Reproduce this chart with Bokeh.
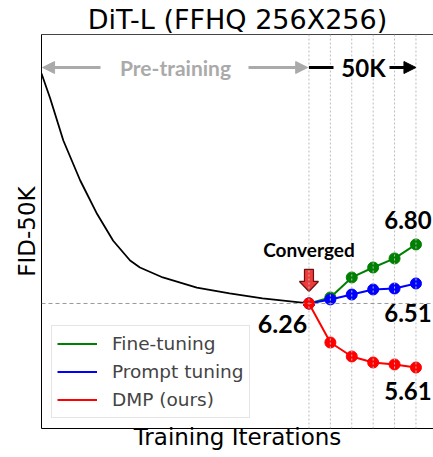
from bokeh.plotting import figure
from bokeh.models import (Range1d, Span, Label, Arrow, NormalHead, Legend,
                          LegendItem, LinearAxis, FixedTicker)
from bokeh.embed import file_html
from bokeh.resources import INLINE

# ---------------- data (x: K iterations, y: FID-50K) ----------------
pre_x = [0.0, 4.0, 10.2, 18.1, 26.0, 33.5, 41.4, 46.0, 56.7, 72.6, 87.9, 103.3, 125.0]
pre_y = [8.364, 8.14, 7.751, 7.385, 7.078, 6.834, 6.653, 6.589, 6.498, 6.406, 6.352, 6.306, 6.26]

steps = [125, 135, 145, 155, 165, 175]
fine_tuning = [6.26, 6.315, 6.498, 6.589, 6.672, 6.80]
prompt_tuning = [6.26, 6.297, 6.342, 6.388, 6.397, 6.443]
dmp = [6.26, 5.903, 5.775, 5.720, 5.702, 5.674]

converged_label = "6.26"
final_labels = ["6.80", "6.51", "5.61"]
series_names = ["Fine-tuning", "Prompt tuning", "DMP (ours)"]
series_colors = ["#008000", "#0000ff", "#ff0000"]

X0, X1 = 0.0, 183.2
Y0, Y1 = 5.116, 8.721
PXX = (X1 - X0) / 392.0   # data per pixel (x)
PXY = (Y1 - Y0) / 394.0   # data per pixel (y)

p = figure(width=433, height=457, output_backend="svg", toolbar_location=None,
           x_range=Range1d(X0, X1), y_range=Range1d(Y0, Y1),
           min_border_left=41, min_border_right=0, min_border_top=34,
           min_border_bottom=29)
p.grid.visible = False
p.outline_line_color = None
p.background_fill_color = "white"
p.border_fill_color = "white"

bottom_axis = p.below[0]
left_axis = p.left[0]
top_axis = LinearAxis()
p.add_layout(top_axis, "above")
for ax in [bottom_axis, left_axis, top_axis]:
    ax.ticker = FixedTicker(ticks=[])
    ax.major_tick_line_color = None
    ax.minor_tick_line_color = None
    ax.major_tick_out = 0
    ax.major_tick_in = 0
    ax.minor_tick_out = 0
    ax.major_label_text_font_size = "0px"
    ax.major_label_standoff = 0
    ax.axis_line_color = "black"
    ax.axis_line_width = 1
top_axis.axis_line_color = "#444444"

bottom_axis.axis_label = "Training Iterations"
left_axis.axis_label = "FID-50K"
for ax in [bottom_axis, left_axis]:
    ax.axis_label_text_font = "DejaVu Sans"
    ax.axis_label_text_font_size = "23px"
    ax.axis_label_text_font_style = "normal"
    ax.axis_label_text_color = "black"
left_axis.axis_label_standoff = 2
bottom_axis.axis_label_standoff = -5

p.title.text = "DiT-L (FFHQ 256X256)"
p.title.text_font = "DejaVu Sans"
p.title.text_font_size = "27px"
p.title.text_font_style = "normal"
p.title.align = "center"
p.title.text_color = "black"
p.title.standoff = 0

# vertical dotted guides and dashed converged level
for s in steps:
    p.add_layout(Span(location=s, dimension="height", line_color="#bbbbbb",
                      line_width=1, line_dash="2 2"))
p.add_layout(Span(location=fine_tuning[0], dimension="width", line_color="#999999",
                  line_width=1, line_dash="4 3"))

# pre-training curve
p.line(pre_x, pre_y, line_color="black", line_width=1.8)

renderers = []
for ys, c in zip([fine_tuning, prompt_tuning, dmp], series_colors):
    r = p.line(steps, ys, line_color=c, line_width=2)
    p.scatter(steps, ys, size=11, fill_color=c, line_color=c)
    renderers.append(r)

legend = Legend(items=[LegendItem(label=n, renderers=[r]) for n, r in zip(series_names, renderers)],
                location=(10, 10), label_text_font="DejaVu Sans",
                label_text_font_size="18.5px", glyph_width=40, glyph_height=25,
                label_height=25, label_standoff=15, spacing=3, padding=5,
                border_line_color="#cccccc", border_line_width=1,
                background_fill_alpha=0.85)
p.add_layout(legend)

# red block arrow above converged point
cx, cy = steps[0], fine_tuning[0]
ax_pts = [(-4.5, 34), (4.5, 34), (4.5, 22), (9.5, 22), (0, 12), (-9.5, 22), (-4.5, 22)]
p.patch([cx + dx * PXX for dx, dy in ax_pts], [cy + dy * PXY for dx, dy in ax_pts],
        fill_color="#ee3b3b", line_color="#6a1010", line_width=1.2)

bold = dict(text_font="Lato", text_font_style="bold", text_align="center",
            text_baseline="middle")
row_y = Y1 - 33 * PXY
p.add_layout(Label(x=(175 - 41) * PXX, y=row_y, text="Pre-training",
                   text_color="#aaaaaa", text_font_size="21px", **bold))
gray = "#aaaaaa"
p.add_layout(Arrow(x_start=(100 - 41) * PXX, y_start=row_y, x_end=0.5, y_end=row_y,
                   line_color=gray, line_width=3,
                   end=NormalHead(size=12, fill_color=gray, line_color=gray)))
p.add_layout(Arrow(x_start=(248 - 41) * PXX, y_start=row_y, x_end=cx - 0.6, y_end=row_y,
                   line_color=gray, line_width=3,
                   end=NormalHead(size=12, fill_color=gray, line_color=gray)))
p.add_layout(Arrow(x_start=cx, y_start=row_y, x_end=(333 - 41) * PXX, y_end=row_y,
                   line_color="black", line_width=3, end=None))
p.add_layout(Arrow(x_start=(389 - 41) * PXX, y_start=row_y, x_end=steps[-1], y_end=row_y,
                   line_color="black", line_width=3,
                   end=NormalHead(size=12, fill_color="black", line_color="black")))
p.add_layout(Label(x=(363 - 41) * PXX, y=row_y, text="50K", text_color="black",
                   text_font_size="24px", **bold))

p.add_layout(Label(x=cx, y=cy + 54 * PXY, text="Converged", text_color="black",
                   text_font_size="19px", **bold))
p.add_layout(Label(x=cx - 26.5 * PXX, y=cy - 21 * PXY, text=converged_label,
                   text_color="black", text_font_size="25px", **bold))
lab_x = steps[-1] - 8 * PXX
for t, dy in zip(final_labels, [83, -10, -88]):
    p.add_layout(Label(x=lab_x, y=cy + dy * PXY, text=t, text_color="black",
                       text_font_size="24px", **bold))

open("out.html", "w").write(file_html(p, INLINE))
